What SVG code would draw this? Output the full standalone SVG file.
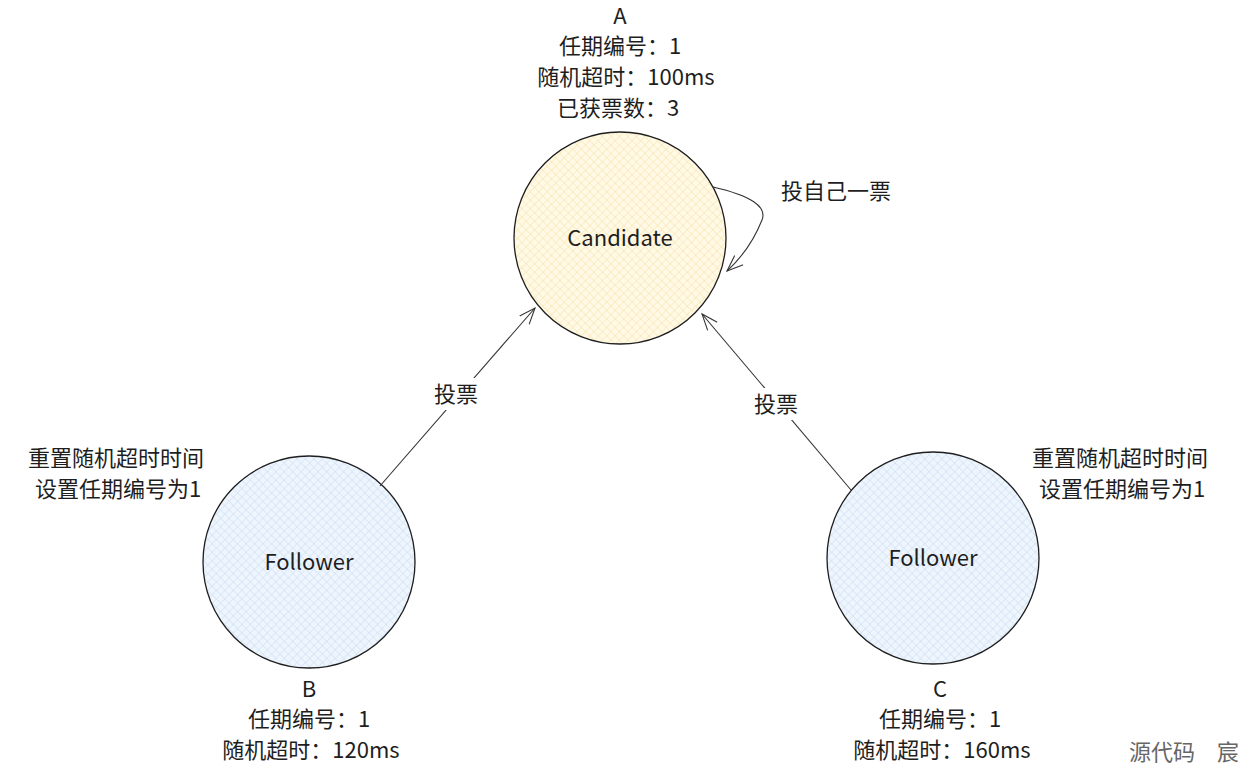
<svg xmlns="http://www.w3.org/2000/svg" width="1238" height="774" viewBox="0 0 1238 774">
<defs>
<pattern id="hy" width="6" height="6" patternUnits="userSpaceOnUse" patternTransform="rotate(45)"><rect width="6" height="6" fill="#fff9e6"/><path d="M0 0H6M0 0V6" stroke="#f5e2a8" stroke-width="1"/></pattern>
<pattern id="hb" width="6" height="6" patternUnits="userSpaceOnUse" patternTransform="rotate(45)"><rect width="6" height="6" fill="#eef5fd"/><path d="M0 0H6M0 0V6" stroke="#c8dcf3" stroke-width="1"/></pattern>
<marker id="a" viewBox="0 0 20 20" refX="18" refY="10" markerWidth="18" markerHeight="18" orient="auto" markerUnits="userSpaceOnUse"><path d="M0 3L18 10L0 17" fill="none" stroke="#333" stroke-width="1.2"/></marker>
</defs>
<style>
text{font-family:"Comic Sans MS","Noto Sans CJK SC",sans-serif;fill:#1e1e1e;font-size:22px;text-anchor:middle}
.n{stroke:#1e1e1e;stroke-width:1.3}
.c{fill:none;stroke:#333;stroke-width:1.1}
</style>
<rect width="1238" height="774" fill="#fff"/>
<g id="nodeA"><circle class="n" cx="620" cy="238" r="106" fill="url(#hy)"/><text x="620" y="246" font-size="21">Candidate</text>
<text x="620" y="24">A</text><text x="620" y="54">任期编号：1</text><text x="626" y="85">随机超时：100ms</text><text x="618" y="116">已获票数：3</text></g>
<g id="nodeB"><circle class="n" cx="309" cy="562" r="106" fill="url(#hb)"/><text x="309" y="570" font-size="21">Follower</text>
<text x="309" y="697">B</text><text x="309" y="727">任期编号：1</text><text x="311" y="758">随机超时：120ms</text>
<text x="116" y="466">重置随机超时时间</text><text x="118" y="497">设置任期编号为1</text></g>
<g id="nodeC"><circle class="n" cx="933" cy="558" r="106" fill="url(#hb)"/><text x="933" y="566" font-size="21">Follower</text>
<text x="940" y="697">C</text><text x="940" y="727">任期编号：1</text><text x="942" y="758">随机超时：160ms</text>
<text x="1120" y="466">重置随机超时时间</text><text x="1122" y="497">设置任期编号为1</text></g>
<g id="connectors">
<path class="c" d="M380 486L535 308" marker-end="url(#a)"/>
<path class="c" d="M851 490L702 314" marker-end="url(#a)"/>
<path class="c" d="M713 187Q770 200 762 220Q750 250 727 271" marker-end="url(#a)"/>
<rect x="420" y="378" width="66" height="32" fill="#fff"/><text x="456" y="402">投票</text>
<rect x="742" y="388" width="66" height="32" fill="#fff"/><text x="776" y="412">投票</text>
<text x="836" y="199">投自己一票</text>
</g>
<text x="1184" y="760" font-size="13" style="fill:#666">源代码　宸</text>
</svg>
